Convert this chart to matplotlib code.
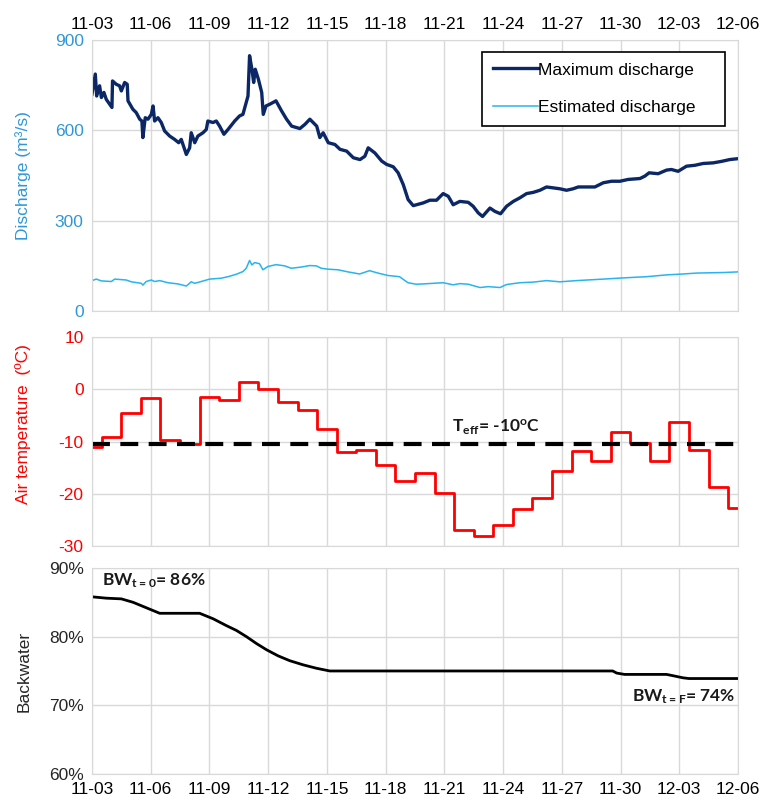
import matplotlib
matplotlib.use("Agg")
import matplotlib.pyplot as plt
import matplotlib.dates as mdates
from matplotlib.ticker import PercentFormatter
import numpy as np
import pandas as pd

plt.rcParams['font.family'] = ['Liberation Sans', 'DejaVu Sans']
plt.rcParams['axes.unicode_minus'] = False
plt.rcParams['mathtext.fontset'] = 'custom'
plt.rcParams['mathtext.rm'] = 'Lato:bold'
plt.rcParams['mathtext.bf'] = 'Lato:bold'
plt.rcParams['mathtext.default'] = 'bf'

START = pd.Timestamp('2020-11-03')

# maximum discharge (days since 11-03, m3/s)
qmax_day = [0, 0.17, 0.24, 0.39, 0.48, 0.61, 0.73, 1.02, 1.05, 1.24, 1.41, 1.5, 1.67, 1.8, 1.84,
            2.09, 2.26, 2.44, 2.55, 2.6, 2.72, 2.86, 3.03, 3.12, 3.2, 3.37, 3.54, 3.71, 3.97,
            4.22, 4.43, 4.56, 4.82, 4.99, 5.07, 5.25, 5.41, 5.67, 5.84, 5.92, 6.18, 6.35, 6.52,
            6.74, 6.95, 7.29, 7.54, 7.71, 7.83, 7.97, 8.05, 8.17, 8.26, 8.34, 8.5, 8.67, 8.75,
            8.89, 9.09, 9.4, 9.69, 9.94, 10.2, 10.62, 10.88, 11.13, 11.48, 11.64, 11.81, 12.07,
            12.41, 12.67, 13.01, 13.35, 13.69, 13.94, 14.11, 14.45, 14.8, 15.05, 15.39, 15.64,
            15.9, 16.15, 16.41, 16.58, 16.92, 17.26, 17.6, 17.94, 18.2, 18.45, 18.79, 19.22,
            19.47, 19.73, 19.95, 20.33, 20.58, 20.87, 21.18, 21.52, 21.86, 22.2, 22.54, 22.88,
            23.22, 23.56, 23.9, 24.24, 24.58, 24.84, 25.27, 25.69, 26.12, 26.54, 26.97, 27.39,
            27.99, 28.24, 28.46, 28.92, 29.35, 29.6, 29.94, 30.37, 30.8, 31.22, 31.73, 32.16,
            32.58, 33.0]
qmax_val = [720, 787, 714, 748, 709, 726, 703, 676, 764, 753, 748, 731, 759, 753, 698,
            670, 659, 637, 631, 576, 642, 637, 653, 681, 631, 642, 626, 598, 581,
            570, 559, 570, 520, 542, 592, 559, 581, 592, 603, 631, 626, 631, 614,
            587, 603, 631, 648, 653, 681, 714, 848, 803, 759, 803, 770, 726, 653,
            681, 687, 698, 664, 637, 614, 606, 620, 637, 614, 576, 592, 559,
            553, 537, 531, 509, 503, 514, 542, 525, 498, 487, 479, 459,
            420, 370, 350, 353, 359, 368, 368, 390, 381, 353, 364, 361,
            348, 326, 314, 342, 331, 323, 348, 364, 376, 390, 394, 401,
            412, 409, 406, 401, 406, 412, 412, 412, 426, 431, 431, 437,
            440, 448, 459, 456, 468, 470, 464, 481, 484, 490, 492, 497,
            503, 506]

# estimated discharge
qest_day = [0, 0.22, 0.48, 0.99, 1.16, 1.75, 2.01, 2.52, 2.6, 2.77, 3.03, 3.2, 3.46, 3.88,
            4.39, 4.82, 5.07, 5.25, 5.58, 6.01, 6.6, 6.95, 7.37, 7.71, 7.88, 8.05, 8.17, 8.31,
            8.56, 8.73, 8.99, 9.41, 9.84, 10.18, 10.69, 11.12, 11.46, 11.71, 12.05, 12.56,
            13.07, 13.67, 14.18, 14.61, 15.12, 15.71, 16.14, 16.56, 16.92, 17.43, 17.94, 18.45,
            18.79, 19.22, 19.82, 20.24, 20.84, 21.18, 21.86, 22.54, 23.22, 23.9, 24.75, 26.12,
            27.14, 28.33, 29.35, 30.2, 30.88, 32.33, 33.0]
qest_val = [101, 106, 100, 98, 106, 103, 97, 92, 86, 98, 103, 98, 101, 94,
            90, 83, 97, 92, 98, 106, 109, 114, 122, 131, 142, 168, 153, 161,
            157, 137, 148, 154, 150, 142, 146, 151, 150, 142, 139, 137,
            130, 123, 134, 126, 118, 114, 94, 89, 90, 92, 94, 87,
            91, 89, 78, 81, 78, 88, 94, 96, 101, 97, 101, 106,
            110, 114, 120, 123, 126, 128, 130]

# daily mean air temperature (ºC), 11-03 .. 12-06
temp_val = [-11.1, -9.2, -4.6, -1.7, -9.8, -10.4, -1.5, -2.1, 1.4, 0.0, -2.5, -4.0, -7.6,
            -12.1, -11.6, -14.4, -17.5, -16.0, -19.9, -26.9, -28.0, -26.0, -23.0, -20.9,
            -15.6, -11.8, -13.7, -8.1, -10.2, -13.8, -6.2, -11.6, -18.8, -22.8]
t_eff = -10.5

# backwater (%)
bw_day = [0, 0.74, 1.5, 2.1, 2.78, 3.46, 4.15, 5.5, 6.19, 6.87, 7.38, 7.89, 8.4, 8.91,
          9.51, 10.1, 10.78, 11.46, 12.15, 15.7, 26.6, 26.8, 27.2, 29.35, 29.7, 30.2, 30.5, 33]
bw_val = [85.8, 85.6, 85.5, 85.0, 84.2, 83.4, 83.4, 83.4, 82.6, 81.6, 80.9, 80.0, 79.0, 78.1,
          77.2, 76.5, 75.9, 75.4, 75.0, 75.0, 75.0, 74.7, 74.5, 74.5, 74.3, 74.0, 73.9, 73.9]


def to_dates(days):
    return START + pd.to_timedelta(np.asarray(days, dtype=float), unit='D')


tick_dates = pd.date_range('2020-11-03', '2020-12-06', freq='3D')
temp_dates = pd.date_range('2020-11-03', '2020-12-06', freq='D')

fig = plt.figure(figsize=(7.62, 8.07), dpi=100)
left, width = 0.1207, 0.8478
ax1 = fig.add_axes([left, 0.6146, width, 0.3358])
ax2 = fig.add_axes([left, 0.3234, width, 0.2590])
ax3 = fig.add_axes([left, 0.0409, width, 0.2553])

grid_c = '#d9d9d9'
fs = 12.5
blue_lbl = '#2f97d8'
for ax in (ax1, ax2, ax3):
    ax.set_xlim(START, pd.Timestamp('2020-12-06'))
    ax.set_xticks(tick_dates)
    ax.xaxis.set_major_formatter(mdates.DateFormatter('%m-%d'))
    ax.grid(True, color=grid_c, lw=1)
    ax.set_axisbelow(True)
    for s in ax.spines.values():
        s.set_color(grid_c)
    ax.tick_params(length=0, labelsize=fs, pad=6)

# --- discharge
ax1.plot(to_dates(qmax_day), qmax_val, color='#0b2766', lw=2.4, label='Maximum discharge')
ax1.plot(to_dates(qest_day), qest_val, color='#27b4f0', lw=1.1, label='Estimated discharge')
ax1.set_ylim(0, 900)
ax1.set_yticks([0, 300, 600, 900])
ax1.xaxis.tick_top()
ax1.tick_params(axis='y', labelcolor=blue_lbl)
ax1.set_ylabel('Discharge (m³/s)', color=blue_lbl, fontsize=fs)
leg = ax1.legend(loc='upper left', bbox_to_anchor=(0.604, 0.5, 0.376, 0.456), mode='expand',
                 borderaxespad=0, fontsize=fs, handlelength=2.6, handletextpad=0.0,
                 labelspacing=1.3, borderpad=0.6, fancybox=False, framealpha=1)
leg.get_frame().set_edgecolor('black')
leg.get_frame().set_linewidth(1.2)

# --- air temperature
ax2.step(temp_dates, temp_val, where='mid', color='#ff0000', lw=2)
ax2.axhline(t_eff, color='black', lw=3, dashes=(4.3, 2.5))
ax2.set_ylim(-30, 10)
ax2.set_yticks([-30, -20, -10, 0, 10])
ax2.tick_params(axis='x', labelbottom=False)
ax2.tick_params(axis='y', labelcolor='#ff0000')
ax2.set_ylabel('Air temperature  (ºC)', color='#ff0000', fontsize=fs)
ax2.text(to_dates([18.4])[0], -8.2, r'T$_{eff}$= -10$^{o}$C', fontsize=12.5,
         family='Lato', weight='bold', color='#1a1a1a')

# --- backwater
ax3.plot(to_dates(bw_day), bw_val, color='black', lw=2)
ax3.set_ylim(60, 90)
ax3.set_yticks([60, 70, 80, 90])
ax3.yaxis.set_major_formatter(PercentFormatter(decimals=0))
ax3.tick_params(axis='y', labelcolor='#262626')
ax3.set_ylabel('Backwater', color='#262626', fontsize=fs)
ax3.text(to_dates([0.5])[0], 88.2, r'BW$_{t=0}$= 86%', fontsize=12.5,
         family='Lato', weight='bold', color='#1a1a1a', va='center')
ax3.text(to_dates([27.6])[0], 71.2, r'BW$_{t=F}$= 74%', fontsize=12.5,
         family='Lato', weight='bold', color='#1a1a1a', va='center')

# line the three y labels up as in the original
ax1.yaxis.set_label_coords(-0.094, 0.5)
ax2.yaxis.set_label_coords(-0.094, 0.585)
ax3.yaxis.set_label_coords(-0.094, 0.5)

fig.savefig('out.png', dpi=100)
